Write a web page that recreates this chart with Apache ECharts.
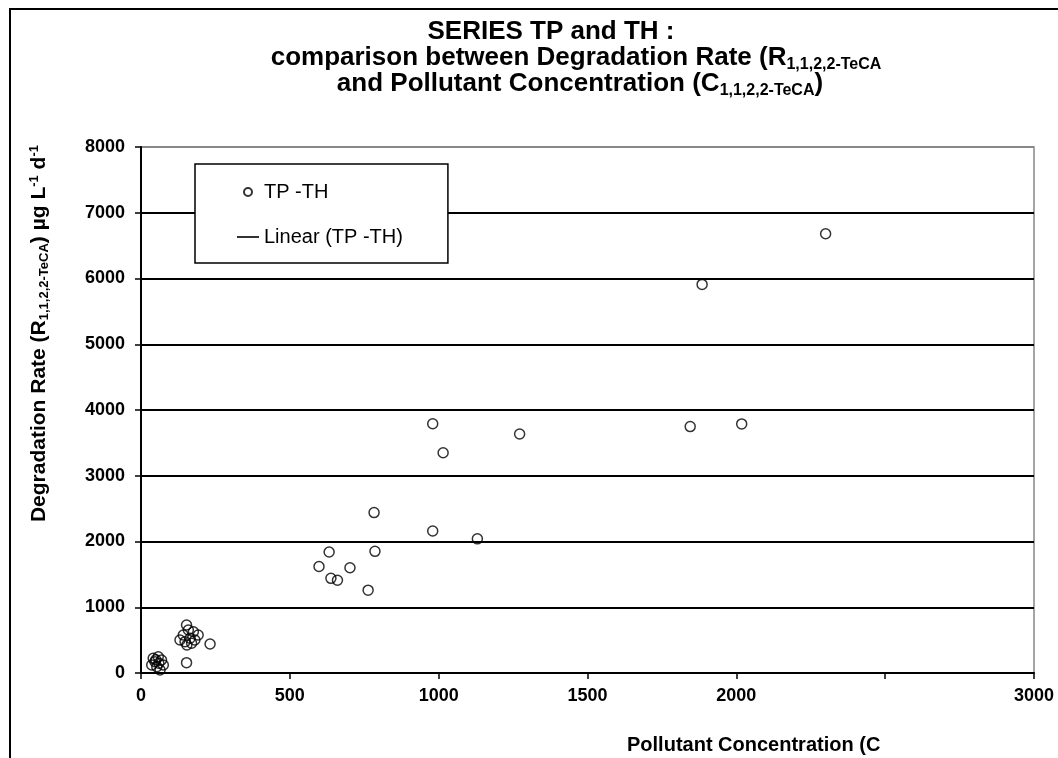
<!DOCTYPE html>
<html>
<head>
<meta charset="utf-8">
<script src="https://cdn.jsdelivr.net/npm/echarts@6/dist/echarts.min.js"></script>
<style>
html,body{margin:0;padding:0;background:#fff;}
#chart{width:1058px;height:758px;}
</style>
</head>
<body>
<div id="chart"></div>
<script>
// Concentration (x) and degradation rate (y) of series TP-TH
const xValues = [2300, 1885, 1845, 2018, 1272, 980, 1015, 783, 980, 1130, 786, 632, 598, 702, 638, 660, 763,
                 153, 232, 153, 142, 159, 176, 192, 131, 148, 165, 181, 154, 170,
                 41, 58, 69, 36, 53, 75, 64, 47, 60, 50];
const yValues = [6680, 5910, 3748, 3788, 3635, 3790, 3350, 2440, 2160, 2040, 1850, 1840, 1620, 1600, 1440, 1410, 1260,
                 730, 441, 157, 578, 654, 628, 578, 502, 477, 528, 502, 426, 452,
                 223, 248, 198, 122, 96, 122, 46, 172, 150, 200];
const xTickLabels = ['0', '500', '1000', '1500', '2000', '', '3000'];
const yTickLabels = ['0', '1000', '2000', '3000', '4000', '5000', '6000', '7000', '8000'];
const titleLines = [
  'SERIES TP and TH :',
  'comparison between Degradation Rate (R{sub|1,1,2,2-TeCA}',
  'and Pollutant Concentration (C{sub|1,1,2,2-TeCA})'
];
const yAxisTitle = 'Degradation Rate (R{sub|1,1,2,2-TeCA}) µg L{sup|-1} d{sup|-1}';
const xAxisTitle = 'Pollutant Concentration (C';
const seriesName = 'TP -TH';
const trendName = 'Linear (TP -TH)';

const points = xValues.map((x, i) => [x, yValues[i]]);
const FONT = '"Liberation Sans", Arial, sans-serif';

const chart = echarts.init(document.getElementById('chart'));
const titleRich = {
  sub: {fontSize: 16, fontWeight: 'bold', fontFamily: FONT, fill: '#000', padding: [13, 0, 0, 0]}
};
const titleCenters = [[551, 32], [576, 58], [580, 84]];
const titleGraphics = titleLines.map((t, i) => ({
  type: 'text', silent: true, x: titleCenters[i][0], y: titleCenters[i][1],
  style: {text: t, align: 'center', verticalAlign: 'middle', font: 'bold 26px ' + FONT, fill: '#000', rich: titleRich}
}));

chart.setOption({
  backgroundColor: '#fff',
  animation: false,
  legend: {
    orient: 'vertical',
    left: 195, top: 164,
    padding: [18, 45, 16, 42],
    itemWidth: 22, itemHeight: 8, itemGap: 25,
    borderColor: '#000', borderWidth: 1.5, backgroundColor: '#fff',
    symbolKeepAspect: true,
    textStyle: {fontSize: 20, fontFamily: FONT, color: '#000', lineHeight: 20},
    data: [
      {name: seriesName, icon: 'circle'},
      {name: trendName, icon: 'path://M0,0 L22,0 L22,1.6 L0,1.6 Z'}
    ]
  },
  grid: {left: 141, right: 24, top: 147, bottom: 85, show: true, borderColor: '#888', borderWidth: 1.5, backgroundColor: 'transparent'},
  xAxis: {
    type: 'value', min: 0, max: 3000, interval: 500,
    axisLine: {show: true, onZero: false, lineStyle: {color: '#000', width: 2}},
    axisTick: {show: true, inside: false, length: 6, lineStyle: {color: '#000', width: 1.5}},
    axisLabel: {margin: 14, fontSize: 18, fontWeight: 'bold', fontFamily: FONT, color: '#000',
      formatter: (v) => xTickLabels[Math.round(v / 500)] ?? ''},
    splitLine: {show: false}
  },
  yAxis: {
    type: 'value', min: 0, max: 8000, interval: 1000,
    axisLine: {show: true, onZero: false, lineStyle: {color: '#000', width: 2}},
    axisTick: {show: true, inside: false, length: 6, lineStyle: {color: '#000', width: 1.5}},
    axisLabel: {margin: 16, fontSize: 18, fontWeight: 'bold', fontFamily: FONT, color: '#000',
      formatter: (v) => yTickLabels[Math.round(v / 1000)] ?? ''},
    splitLine: {show: true, lineStyle: {color: ['#000', '#000', '#000', '#000', '#000', '#000', '#000', '#000', '#888'], width: 2}}
  },
  graphic: [
    {type: 'rect', silent: true, z: -10, shape: {x: 10, y: 9, width: 1100, height: 820},
     style: {fill: 'none', stroke: '#000', lineWidth: 2}},
    ...titleGraphics,
    {type: 'text', silent: true, x: 39, y: 145, rotation: Math.PI / 2,
     style: {
       text: yAxisTitle,
       align: 'right', verticalAlign: 'middle',
       font: 'bold 21px ' + FONT, fill: '#000',
       rich: {
         sub: {fontSize: 13, fontWeight: 'bold', fontFamily: FONT, fill: '#000', padding: [10, 0, 0, 0]},
         sup: {fontSize: 13, fontWeight: 'bold', fontFamily: FONT, fill: '#000', padding: [0, 0, 10, 0]}
       }
     }},
    {type: 'text', silent: true, x: 627, y: 745,
     style: {text: xAxisTitle, align: 'left', verticalAlign: 'middle',
       font: 'bold 20px ' + FONT, fill: '#000'}}
  ],
  series: [
    {
      name: seriesName, type: 'scatter', data: points,
      symbol: 'circle', symbolSize: 10,
      itemStyle: {color: 'rgba(0,0,0,0)', borderColor: '#000', borderWidth: 1.5}
    },
    {
      name: trendName, type: 'line', data: [], symbol: 'none',
      lineStyle: {color: '#000', width: 1.5}, itemStyle: {color: '#000'}
    }
  ]
});
</script>
</body>
</html>
